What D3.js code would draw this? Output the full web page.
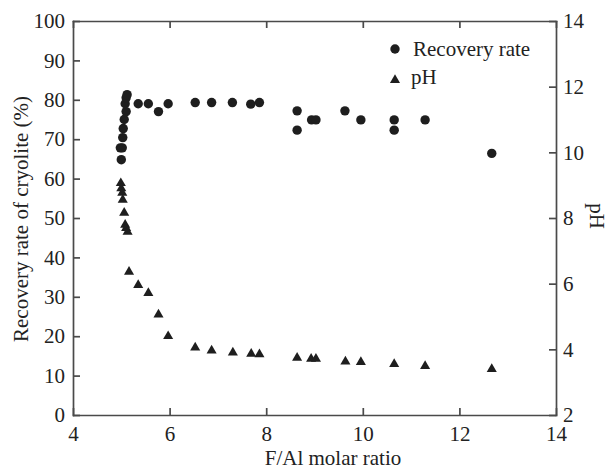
<!DOCTYPE html>
<html>
<head>
<meta charset="utf-8">
<script src="https://cdn.jsdelivr.net/npm/d3@7"></script>
<style>
  body { margin: 0; background: #fff; }
  .axis path, .axis line { stroke: #4a4a4a; stroke-width: 1.7; }
</style>
</head>
<body>
<svg></svg>
<script>
const width = 610;
const height = 470;
const margin = { top: 21, right: 54, bottom: 55, left: 73 };
const serif = 'Liberation Serif';

// recovery rate of cryolite (%) vs F/Al molar ratio
const recRatio = [5.0, 4.98, 5.02, 5.03, 5.04, 5.06, 5.1, 5.08, 5.1, 5.12,
  5.35, 5.56, 5.77, 5.97, 6.53, 6.87, 7.30, 7.68, 7.86,
  8.64, 8.64, 8.94, 9.03, 9.63, 9.96, 10.65, 10.65, 11.29, 12.67];
const recValue = [64.8, 67.8, 67.8, 70.4, 72.7, 75.0, 77.0, 79.0, 80.5, 81.3,
  79.0, 79.0, 77.0, 79.0, 79.3, 79.3, 79.3, 78.9, 79.3,
  77.2, 72.3, 74.9, 74.9, 77.2, 74.9, 74.9, 72.3, 74.9, 66.4];

// pH vs F/Al molar ratio
const phRatio = [4.99, 5.0, 5.02, 5.03, 5.06, 5.08, 5.1, 5.13, 5.16, 5.35, 5.56,
  5.77, 5.97, 6.53, 6.87, 7.31, 7.69, 7.86, 8.64, 8.93, 9.03, 9.64, 9.96,
  10.65, 11.29, 12.67];
const phValue = [9.06, 8.9, 8.77, 8.55, 8.16, 7.79, 7.69, 7.58, 6.36, 5.96, 5.71,
  5.06, 4.4, 4.05, 3.96, 3.9, 3.86, 3.85, 3.74, 3.71, 3.71, 3.63, 3.61,
  3.55, 3.49, 3.4];

const xTicks = [4, 6, 8, 10, 12, 14];
const yTicks = [0, 10, 20, 30, 40, 50, 60, 70, 80, 90, 100];
const phTicks = [2, 4, 6, 8, 10, 12, 14];

const svg = d3.select('svg')
  .attr('width', width)
  .attr('height', height);

const x = d3.scaleLinear().domain([4, 14]).range([margin.left, width - margin.right]);
const y = d3.scaleLinear().domain([0, 100]).range([height - margin.bottom, margin.top]);
const yPh = d3.scaleLinear().domain([2, 14]).range([height - margin.bottom, margin.top]);

const x0 = margin.left, x1 = width - margin.right;
const y0 = height - margin.bottom, y1 = margin.top;

// frame with inward ticks on all four sides
const axes = [];
axes.push(svg.append('g')
  .attr('transform', `translate(0,${y0})`)
  .call(d3.axisBottom(x).tickValues(xTicks).tickSizeInner(-7).tickSizeOuter(0).tickPadding(11)));

axes.push(svg.append('g')
  .attr('transform', `translate(0,${y1})`)
  .call(d3.axisTop(x).tickValues(xTicks).tickSizeInner(-7).tickSizeOuter(0).tickFormat('')));

axes.push(svg.append('g')
  .attr('transform', `translate(${x0},0)`)
  .call(d3.axisLeft(y).tickValues(yTicks).tickSizeInner(-7).tickSizeOuter(0).tickPadding(8)));

axes.push(svg.append('g')
  .attr('transform', `translate(${x1},0)`)
  .call(d3.axisRight(yPh).tickValues(phTicks).tickSizeInner(-7).tickSizeOuter(0).tickPadding(7)));

axes.forEach((g) => {
  g.attr('class', 'axis').attr('font-family', serif).attr('font-size', 21);
  g.selectAll('text').attr('fill', '#222');
  g.select('.domain').attr('stroke-linecap', 'square');
});

// axis titles
svg.append('text')
  .attr('x', 333)
  .attr('y', 465)
  .attr('text-anchor', 'middle')
  .attr('font-family', serif)
  .attr('font-size', 21)
  .attr('fill', '#222')
  .text('F/Al molar ratio');

svg.append('text')
  .attr('transform', `translate(28,219) rotate(-90)`)
  .attr('text-anchor', 'middle')
  .attr('font-family', serif)
  .attr('font-size', 21)
  .attr('fill', '#222')
  .text('Recovery rate of cryolite (%)');

svg.append('text')
  .attr('transform', `translate(590,216) rotate(90)`)
  .attr('text-anchor', 'middle')
  .attr('font-family', serif)
  .attr('font-size', 21)
  .attr('fill', '#222')
  .text('pH');

const markColor = '#1e1e1e';
const tri = d3.symbol().type(d3.symbolTriangle).size(44);

const recData = recRatio.map((r, i) => ({ r, v: recValue[i] }));
const phData = phRatio.map((r, i) => ({ r, v: phValue[i] }));

svg.append('g').selectAll('circle')
  .data(recData)
  .enter().append('circle')
  .attr('cx', (d) => x(d.r))
  .attr('cy', (d) => y(d.v))
  .attr('r', 4.7)
  .attr('fill', markColor);

svg.append('g').selectAll('path')
  .data(phData)
  .enter().append('path')
  .attr('d', tri)
  .attr('transform', (d) => `translate(${x(d.r)},${yPh(d.v)})`)
  .attr('fill', markColor);

// legend
const legend = svg.append('g').attr('transform', 'translate(395,0)');
legend.append('circle').attr('cx', 0).attr('cy', 49).attr('r', 4.7).attr('fill', markColor);
legend.append('path').attr('d', tri).attr('transform', 'translate(0,80)').attr('fill', markColor);
legend.append('text').attr('x', 18).attr('y', 56).attr('font-family', serif).attr('font-size', 21).attr('fill', '#222').text('Recovery rate');
legend.append('text').attr('x', 16).attr('y', 84).attr('font-family', serif).attr('font-size', 21).attr('fill', '#222').text('pH');
</script>
</body>
</html>
